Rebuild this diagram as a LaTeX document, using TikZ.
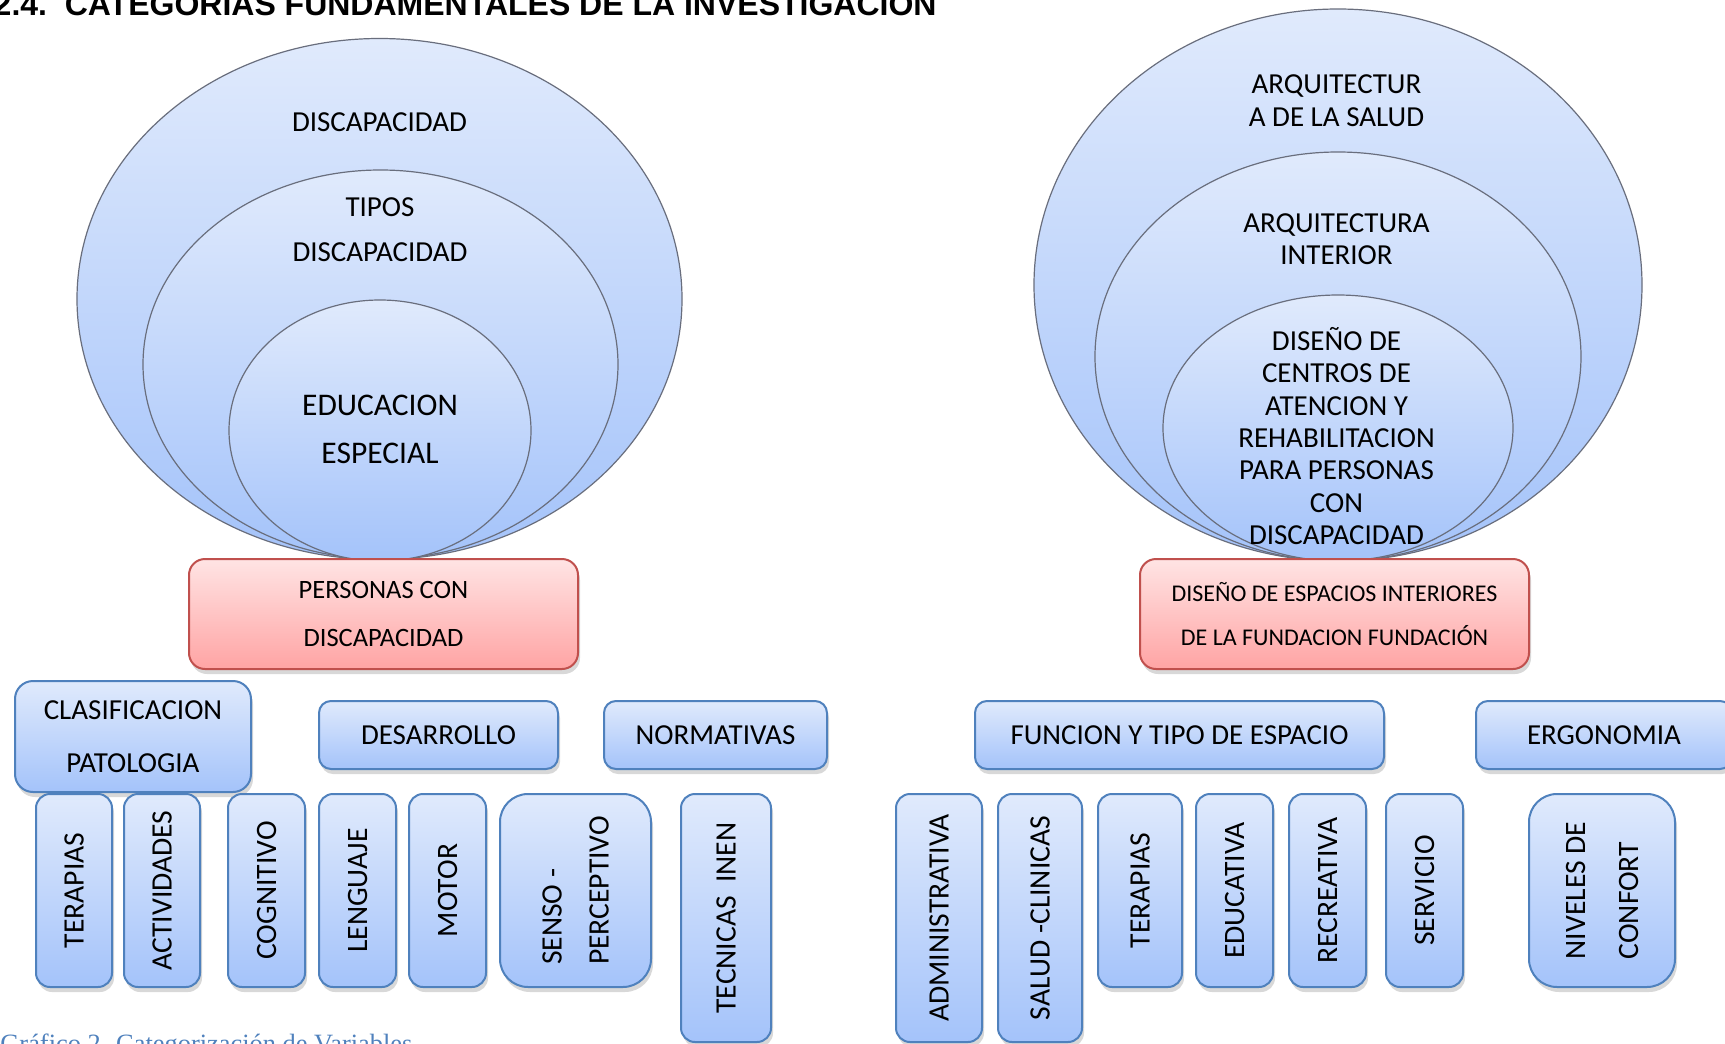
\documentclass[tikz,border=0pt]{standalone}
\usepackage{fontspec}
\setmainfont{Carlito}
\newfontfamily\arialfont{Liberation Sans}
\newfontfamily\timesfont{Liberation Serif}
\usepackage{xcolor}
\usepackage{tikz}
\usetikzlibrary{shapes,shadows}

\definecolor{blueT}{RGB}{224,234,252}
\definecolor{blueB}{RGB}{164,195,250}
\definecolor{blueline}{RGB}{79,129,189}
\definecolor{ringline}{RGB}{105,110,125}
\definecolor{redT}{RGB}{255,228,228}
\definecolor{redB}{RGB}{255,164,164}
\definecolor{redline}{RGB}{192,80,77}
\definecolor{capblue}{RGB}{79,129,189}

\begin{document}
\begin{tikzpicture}[x=0.5pt, y=-0.5pt]
    % Styles
    \tikzstyle{ring} = [ellipse, draw=ringline, line width=0.6pt, top color=blueT, bottom color=blueB]
    \tikzstyle{txt} = [align=center, inner sep=0pt, font=\fontsize{14.5}{16.2}\selectfont]
    \tikzstyle{hblock} = [rectangle, draw=blueline, line width=1pt, rounded corners=6pt, top color=blueT, bottom color=blueB, align=center, font=\fontsize{14.5}{17}\selectfont, drop shadow={opacity=0.3, shadow xshift=1pt, shadow yshift=-2.5pt}]
    \tikzstyle{vblock} = [hblock, rotate=90, align=left, rounded corners=7pt, font=\fontsize{14.8}{23.5}\selectfont]
    \tikzstyle{rblock} = [hblock, draw=redline, top color=redT, bottom color=redB, rounded corners=8pt]

    \path [use as bounding box, fill=white] (0,0) rectangle (1725,1044);

    % Title and caption
    \node [anchor=base east, inner sep=0pt, font=\arialfont\bfseries\fontsize{16}{18}\selectfont] (title) at (937,16) {2.4.~~CATEGORIAS FUNDAMENTALES DE LA INVESTIGACION};
    \node [anchor=base west, inner sep=0pt, text=capblue, font=\timesfont\fontsize{13.2}{15}\selectfont] (caption) at (0,1052) {Gráfico 2. Categorización de Variables};

    % Left rings
    \node [ring, minimum width=302.5pt, minimum height=260.5pt] (discap) at (379.5,299) {};
    \node [ring, minimum width=237.5pt, minimum height=194.5pt] (tipos) at (380.5,364.5) {};
    \node [ring, minimum width=151pt, minimum height=130.5pt] (educ) at (380,430.5) {};
    \node [txt] (discapT) at (379.5,122) {DISCAPACIDAD};
    \node [txt, font=\fontsize{14.5}{22.5}\selectfont] (tiposT) at (380,229.5) {TIPOS\\DISCAPACIDAD};
    \node [txt, font=\fontsize{15.75}{24}\selectfont] (educT) at (380,429) {EDUCACION\\ESPECIAL};

    % Right rings
    \node [ring, minimum width=304pt, minimum height=276pt] (arqsalud) at (1338,285) {};
    \node [ring, minimum width=243pt, minimum height=204.5pt] (arqint) at (1338,356.5) {};
    \node [ring, minimum width=175pt, minimum height=133pt] (diseno) at (1338,428) {};
    \node [txt] (arqsaludT) at (1336.5,100.5) {ARQUITECTUR\\A DE LA SALUD};
    \node [txt] (arqintT) at (1336.5,239) {ARQUITECTURA\\INTERIOR};
    \node [txt] (disenoT) at (1336.5,436) {DISEÑO DE\\CENTROS DE\\ATENCION Y\\REHABILITACION\\PARA PERSONAS\\CON\\DISCAPACIDAD};

    % Red blocks
    \node [rblock, minimum width=194.5pt, minimum height=55pt, font=\fontsize{13.25}{24}\selectfont] (personas) at (383.5,614) {PERSONAS CON\\DISCAPACIDAD};
    \node [rblock, minimum width=194.5pt, minimum height=55pt, font=\fontsize{12}{22}\selectfont] (espacios) at (1334.5,614) {DISEÑO DE ESPACIOS INTERIORES\\DE LA FUNDACION FUNDACIÓN};

    % Category blocks
    \node [hblock, minimum width=118pt, minimum height=55.5pt, rounded corners=9pt, font=\fontsize{14.5}{26.5}\selectfont] (clasif) at (133,736.5) {CLASIFICACION\\PATOLOGIA};
    \node [hblock, minimum width=119.5pt, minimum height=34pt] (desarrollo) at (438.5,735) {DESARROLLO};
    \node [hblock, minimum width=111.5pt, minimum height=34pt] (normativas) at (715.5,735) {NORMATIVAS};
    \node [hblock, minimum width=204.5pt, minimum height=34pt] (funcion) at (1179.5,735) {FUNCION Y TIPO DE ESPACIO};
    \node [hblock, minimum width=128pt, minimum height=34pt] (ergonomia) at (1604,735) {ERGONOMIA};

    % Vertical blocks, left
    \node [vblock, minimum width=96.5pt, minimum height=38pt] (terapiasA) at (74,890.5) {TERAPIAS};
    \node [vblock, minimum width=96.5pt, minimum height=38pt] (actividades) at (162,890.5) {ACTIVIDADES};
    \node [vblock, minimum width=96.5pt, minimum height=38.5pt] (cognitivo) at (266.5,890.5) {COGNITIVO};
    \node [vblock, minimum width=96.5pt, minimum height=38.5pt] (lenguaje) at (357.5,890.5) {LENGUAJE};
    \node [vblock, minimum width=96.5pt, minimum height=38.5pt] (motor) at (447.5,890.5) {MOTOR};
    \node [vblock, minimum width=96.5pt, minimum height=75.5pt, rounded corners=14pt] (senso) at (575.5,890.5) {SENSO -\\PERCEPTIVO};
    \node [vblock, minimum width=124pt, minimum height=45pt] (tecnicas) at (726,918) {TECNICAS~ INEN};

    % Vertical blocks, right
    \node [vblock, minimum width=124pt, minimum height=43pt] (administrativa) at (939,918) {ADMINISTRATIVA};
    \node [vblock, minimum width=124pt, minimum height=42pt] (salud) at (1040,918) {SALUD -CLINICAS};
    \node [vblock, minimum width=96.5pt, minimum height=42pt] (terapiasB) at (1140,890.5) {TERAPIAS};
    \node [vblock, minimum width=96.5pt, minimum height=38.5pt] (educativa) at (1234.5,890.5) {EDUCATIVA};
    \node [vblock, minimum width=96.5pt, minimum height=38.5pt] (recreativa) at (1327.5,890.5) {RECREATIVA};
    \node [vblock, minimum width=96.5pt, minimum height=38.5pt] (servicio) at (1424.5,890.5) {SERVICIO};
    \node [vblock, minimum width=96.5pt, minimum height=73pt, rounded corners=14pt, font=\fontsize{14.8}{26.5}\selectfont] (niveles) at (1602,890.5) {NIVELES DE\\CONFORT};
\end{tikzpicture}
\end{document}
